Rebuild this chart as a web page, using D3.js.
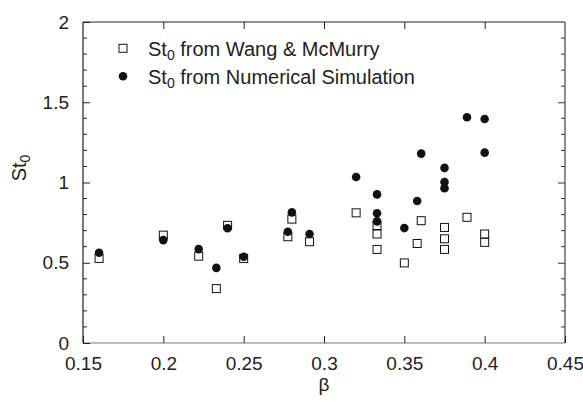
<!DOCTYPE html>
<html>
<head>
<meta charset="utf-8">
<script src="https://cdn.jsdelivr.net/npm/d3@7"></script>
<style>
  body { margin: 0; background: #fff; }
  text { font-family: Arial, "Liberation Sans", sans-serif; fill: #222; }
</style>
</head>
<body>
<div id="chart"></div>
<script>
// St0 from Wang & McMurry (open squares)
const wangBeta = [0.16, 0.2, 0.222, 0.233, 0.24, 0.25, 0.2775, 0.28, 0.291, 0.32,
  0.333, 0.333, 0.333, 0.35, 0.358, 0.3605, 0.375, 0.375, 0.375, 0.389, 0.4, 0.4];
const wangSt0 = [0.527, 0.672, 0.541, 0.339, 0.733, 0.527, 0.662, 0.772, 0.631, 0.811,
  0.732, 0.679, 0.583, 0.499, 0.62, 0.762, 0.72, 0.649, 0.583, 0.783, 0.679, 0.627];

// St0 from Numerical Simulation (filled circles)
const simBeta = [0.16, 0.2, 0.222, 0.233, 0.24, 0.25, 0.2775, 0.28, 0.291, 0.32,
  0.333, 0.333, 0.333, 0.35, 0.358, 0.3605, 0.375, 0.375, 0.375, 0.389, 0.4, 0.4];
const simSt0 = [0.562, 0.641, 0.585, 0.468, 0.715, 0.537, 0.693, 0.814, 0.679, 1.034,
  0.926, 0.808, 0.758, 0.716, 0.885, 1.18, 1.091, 1.003, 0.964, 1.407, 1.396, 1.186];

const xTicks = [0.15, 0.2, 0.25, 0.3, 0.35, 0.4, 0.45];
const yTicks = [0, 0.5, 1, 1.5, 2];
const yMinor = d3.range(0, 2.001, 0.1);

const seriesNames = ['from Wang & McMurry', 'from Numerical Simulation'];

const width = 583, height = 404;
const margin = { top: 22, right: 18, bottom: 61, left: 83 };
const innerW = width - margin.left - margin.right;
const innerH = height - margin.top - margin.bottom;

const svg = d3.select('#chart').append('svg')
  .attr('width', width)
  .attr('height', height);

const plot = svg.append('g')
  .attr('transform', `translate(${margin.left},${margin.top})`);

const x = d3.scaleLinear().domain([0.15, 0.45]).range([0, innerW]);
const y = d3.scaleLinear().domain([0, 2]).range([innerH, 0]);

// frame
plot.append('line').attr('x1', 0).attr('x2', innerW).attr('y1', innerH).attr('y2', innerH)
  .attr('stroke', '#777').attr('stroke-width', 1.2);
plot.append('line').attr('x1', innerW).attr('x2', innerW).attr('y1', 0).attr('y2', innerH)
  .attr('stroke', '#444').attr('stroke-width', 1.2);
plot.append('line').attr('x1', 0).attr('x2', innerW).attr('y1', 0).attr('y2', 0)
  .attr('stroke', '#222').attr('stroke-width', 1.2);
plot.append('line').attr('x1', 0).attr('x2', 0).attr('y1', 0).attr('y2', innerH)
  .attr('stroke', '#222').attr('stroke-width', 1.2);

// x ticks (inward, bottom and top)
const xAxis = plot.append('g').attr('class', 'x axis')
  .attr('transform', `translate(0,${innerH})`)
  .call(d3.axisBottom(x).tickValues(xTicks).tickSize(-7)
    .tickFormat(d => d3.format('')(+d.toFixed(2))));
xAxis.select('.domain').remove();
xAxis.selectAll('line').attr('stroke', '#222');
xAxis.selectAll('text').attr('font-size', 19).attr('y', 27).attr('dy', null);

const xTop = plot.append('g')
  .call(d3.axisTop(x).tickValues(xTicks.slice(1, -1)).tickSize(-7).tickFormat(''));
xTop.select('.domain').remove();
xTop.selectAll('line').attr('stroke', '#222');

// y ticks (inward, left and right)
const yAxis = plot.append('g').attr('class', 'y axis')
  .call(d3.axisLeft(y).tickValues(yTicks).tickSize(-7).tickPadding(14)
    .tickFormat(d3.format('')));
yAxis.select('.domain').remove();
yAxis.selectAll('line').attr('stroke', '#222');
yAxis.selectAll('text').attr('font-size', 19);

const yRight = plot.append('g').attr('transform', `translate(${innerW},0)`)
  .call(d3.axisRight(y).tickValues(yTicks.slice(1, -1)).tickSize(-7).tickFormat(''));
yRight.select('.domain').remove();
yRight.selectAll('line').attr('stroke', '#333');

// minor y ticks
const minor = yMinor.filter(v => Math.abs(v * 2 - Math.round(v * 2)) > 1e-6);
plot.append('g').selectAll('line.ml').data(minor).enter().append('line')
  .attr('x1', 0).attr('x2', 4).attr('y1', d => y(d)).attr('y2', d => y(d))
  .attr('stroke', '#222');
plot.append('g').selectAll('line.mr').data(minor).enter().append('line')
  .attr('x1', innerW).attr('x2', innerW - 4).attr('y1', d => y(d)).attr('y2', d => y(d))
  .attr('stroke', '#333');

// axis titles
svg.append('text')
  .attr('x', margin.left + x(0.3))
  .attr('y', 391)
  .attr('text-anchor', 'middle')
  .attr('font-size', 19)
  .text('β');

const yTitle = svg.append('text')
  .attr('transform', 'translate(26,168) rotate(-90)')
  .attr('text-anchor', 'middle')
  .attr('font-size', 20);
yTitle.append('tspan').text('St');
yTitle.append('tspan').attr('font-size', 14).attr('dy', 4).text('0');

// marks
const wang = wangBeta.map((b, i) => ({ b, s: wangSt0[i] }));
const sim = simBeta.map((b, i) => ({ b, s: simSt0[i] }));

plot.selectAll('.sq').data(wang).enter().append('rect')
  .attr('class', 'sq')
  .attr('x', d => x(d.b) - 4)
  .attr('y', d => y(d.s) - 4)
  .attr('width', 8).attr('height', 8)
  .attr('fill', '#fff').attr('stroke', '#111').attr('stroke-width', 1);

plot.selectAll('.dot').data(sim).enter().append('circle')
  .attr('class', 'dot')
  .attr('cx', d => x(d.b))
  .attr('cy', d => y(d.s))
  .attr('r', 4.3)
  .attr('fill', '#111');

// legend
const legend = svg.append('g');
seriesNames.forEach((name, i) => {
  const ly = 48.3 + i * 28;
  if (i === 0) {
    legend.append('rect').attr('x', 119).attr('y', ly - 4).attr('width', 8).attr('height', 8)
      .attr('fill', '#fff').attr('stroke', '#111');
  } else {
    legend.append('circle').attr('cx', 123).attr('cy', ly).attr('r', 4.3).attr('fill', '#111');
  }
  const t = legend.append('text').attr('x', 148).attr('y', ly + 8).attr('font-size', 20);
  t.append('tspan').text('St');
  t.append('tspan').attr('font-size', 14).attr('dy', 4).text('0');
  t.append('tspan').attr('dy', -4).text(' ' + name);
});
</script>
</body>
</html>
